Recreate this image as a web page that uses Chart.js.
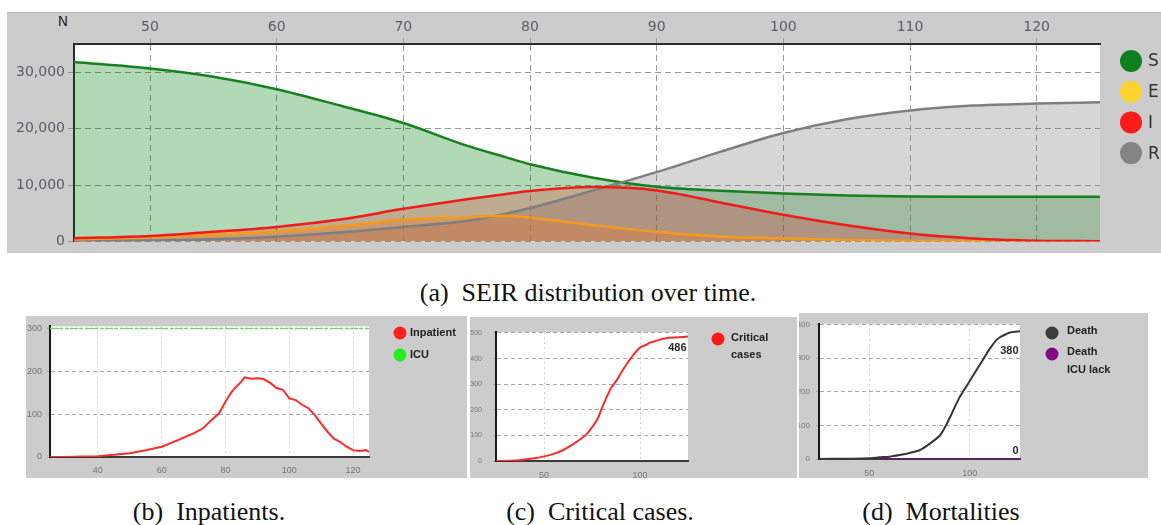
<!DOCTYPE html>
<html>
<head>
<meta charset="utf-8">
<title>SEIR simulation</title>
<script src="https://cdn.jsdelivr.net/npm/chart.js@4.4.1/dist/chart.umd.min.js"></script>
<style>
    body { margin: 0; background: #fff; width: 1161px; height: 525px; position: relative; overflow: hidden; }
    .panel { position: absolute; background: #cccccc; overflow: hidden; }
    .panel canvas { position: absolute; top: 0; }
    .caption {
        position: absolute; transform: translateX(-50%);
        font-family: "Liberation Serif", "Times New Roman", serif; font-size: 26px;
        line-height: 26px; color: #111; white-space: pre;
    }
</style>
</head>
<body>

<div class="panel" style="left:7px; top:12px; width:1154px; height:240px; border-top:1px solid #b5b5b5;">
    <canvas id="seirChart" width="1154" height="240" style="left:0"></canvas>
</div>
<div class="caption" style="left:588px; top:280px;">(a)  SEIR distribution over time.</div>

<div class="panel" style="left:26px; top:316px; width:441px; height:162px;">
    <canvas id="inpatientChart" width="441" height="162" style="left:0"></canvas>
</div>
<div class="panel" style="left:470px; top:317px; width:327px; height:161px;">
    <canvas id="criticalChart" width="327" height="161" style="left:0"></canvas>
</div>
<div class="panel" style="left:799px; top:313px; width:349px; height:165px;">
    <canvas id="deathChart" width="359" height="165" style="left:-10px"></canvas>
</div>
<div class="caption" style="left:209px; top:499px;">(b)  Inpatients.</div>
<div class="caption" style="left:600px; top:499px;">(c)  Critical cases.</div>
<div class="caption" style="left:941px; top:499px;">(d)  Mortalities</div>

<script>
// ===== data =====
// (a) SEIR compartments
const seirDays    = [44, 50, 55, 60, 65, 70, 75, 78, 80, 85, 90, 95, 100, 105, 110, 115, 120, 125];
const susceptible = [31800, 30650, 29200, 27000, 24100, 21000, 17000, 15000, 13700, 11300, 9700, 9000, 8500, 8150, 8000, 7950, 7950, 7950];
const exposed     = [350, 800, 1250, 1800, 2700, 3850, 4330, 4600, 4220, 2900, 1730, 870, 570, 300, 130, 80, 50, 30];
const infected    = [600, 1000, 1730, 2600, 3900, 5800, 7500, 8400, 8960, 9650, 9070, 6940, 4750, 2900, 1440, 570, 170, 80];
const recovered   = [50, 200, 400, 870, 1600, 2600, 3640, 4900, 5950, 9070, 12300, 15900, 19250, 21680, 23240, 24100, 24450, 24680];
const seirLabels  = ['S', 'E', 'I', 'R'];
const seirXTicks  = [50, 60, 70, 80, 90, 100, 110, 120];
const seirYTicks  = [0, 10000, 20000, 30000];

// (b) inpatients vs ICU capacity
const inpatientDays = [25, 30, 35, 40, 45, 50, 55, 60, 63, 65, 68, 70, 73, 75, 78, 80, 82, 83, 85, 86, 88, 90, 92, 94, 96, 98, 100, 102, 104, 106, 108, 110, 112, 114, 116, 118, 120, 122, 124, 125];
const inpatients    = [0, 0, 1, 2, 5, 9, 16, 24, 33, 39, 49, 55, 67, 82, 102, 129, 153, 161, 176, 186, 183, 184, 182, 173, 161, 157, 137, 133, 122, 114, 98, 78, 59, 43, 35, 24, 16, 14, 16, 12];
const icuDays       = [25, 125];
const icuCapacity   = [300, 300];
const inpatientLabels = ['Inpatient', 'ICU'];
const inpatientXTicks = [40, 60, 80, 100, 120];
const inpatientYTicks = [0, 100, 200, 300];

// (c) critical cases (cumulative)
const criticalDays  = [25, 35, 40, 45, 50, 55, 60, 65, 70, 72, 75, 78, 80, 82, 85, 88, 90, 93, 95, 98, 100, 103, 105, 108, 110, 115, 120, 125];
const criticalCases = [0, 2, 6, 11, 18, 28, 43, 65, 91, 103, 131, 166, 204, 239, 286, 317, 343, 378, 399, 428, 443, 453, 462, 468, 473, 481, 483, 486];
const criticalLabels = ['Critical\ncases'];
const criticalXTicks = [50, 100];
const criticalYTicks = [0, 100, 200, 300, 400, 500];

// (d) mortalities
const deathDays     = [25, 40, 50, 55, 60, 65, 70, 75, 80, 85, 88, 90, 93, 95, 98, 100, 103, 105, 108, 110, 113, 115, 118, 120, 125];
const deaths        = [0, 1, 2, 5, 7, 12, 18, 26, 45, 69, 98, 122, 160, 184, 213, 232, 261, 280, 309, 328, 352, 362, 371, 376, 380];
const icuLackDays   = [25, 125];
const deathsIcuLack = [0, 0];
const deathLabels   = ['Death', 'Death\nICU lack'];
const deathXTicks   = [50, 100];
const deathYTicks   = [0, 100, 200, 300, 400];

// ===== helpers & plugins =====
const toPoints = (xs, ys) => xs.map((x, i) => ({ x: x, y: ys[i] }));
const fixedTicks = values => scale => { scale.ticks = values.map(v => ({ value: v })); };

// white plotting area on the grey panel
const plotBackground = {
    id: 'plotBackground',
    beforeDraw(chart) {
        const { ctx, chartArea: a } = chart;
        ctx.save();
        ctx.fillStyle = '#ffffff';
        ctx.fillRect(a.left, a.top, a.right - a.left, a.bottom - a.top);
        ctx.restore();
    }
};

// round markers + labels drawn at a fixed spot on the right
const dotLegend = {
    id: 'dotLegend',
    afterDraw(chart, args, opts) {
        if (!opts.items) return;
        const ctx = chart.ctx;
        ctx.save();
        ctx.font = opts.font;
        ctx.textBaseline = 'middle';
        let y = opts.y;
        opts.items.forEach(item => {
            ctx.beginPath();
            ctx.arc(opts.x, y, opts.r, 0, Math.PI * 2);
            ctx.fillStyle = item.color;
            ctx.fill();
            ctx.fillStyle = opts.color;
            item.text.split('\n').forEach((line, k) => {
                ctx.fillText(line, opts.x + opts.gap, y + opts.textShift + k * opts.lineGap);
            });
            y += opts.step;
        });
        ctx.restore();
    }
};

// last value of a series written next to the line end
const endLabels = {
    id: 'endLabels',
    afterDatasetsDraw(chart) {
        const ctx = chart.ctx;
        chart.data.datasets.forEach((ds, i) => {
            if (!ds.endLabel) return;
            const meta = chart.getDatasetMeta(i);
            const last = meta.data[meta.data.length - 1];
            const value = ds.data[ds.data.length - 1].y;
            ctx.save();
            ctx.font = 'bold 11px "Liberation Sans", Arial, sans-serif';
            ctx.fillStyle = '#2a2a2a';
            ctx.textAlign = 'right';
            ctx.textBaseline = 'middle';
            ctx.fillText(String(value), chart.chartArea.right - 1.5, last.y + ds.endLabelOffset);
            ctx.restore();
        });
    }
};

const cornerText = {
    id: 'cornerText',
    afterDraw(chart, args, opts) {
        if (!opts.text) return;
        const ctx = chart.ctx;
        ctx.save();
        ctx.font = opts.font;
        ctx.fillStyle = opts.color;
        ctx.textAlign = 'center';
        ctx.textBaseline = 'middle';
        ctx.fillText(opts.text, opts.x, opts.y);
        ctx.restore();
    }
};

Chart.register(plotBackground, dotLegend, endLabels, cornerText);
Chart.defaults.font.family = '"DejaVu Sans", sans-serif';
Chart.defaults.animation = false;
Chart.defaults.responsive = false;
Chart.defaults.devicePixelRatio = 1;

let charts = {};

// ===== (a) SEIR =====
function buildSeirChart() {
    const lineColors = ['#17801f', '#f59a1a', '#ee1c1c', '#7f7f7f'];
    const fillColors = ['rgba(0,128,10,0.30)', 'rgba(240,140,30,0.30)', 'rgba(225,40,40,0.26)', 'rgba(120,120,120,0.30)'];
    const legendColors = ['#0f7f1f', '#fdd22c', '#fb1c1c', '#848484'];
    // S at the back, then R, E, I on top
    const drawOrder = [4, 2, 1, 3];
    const series = [susceptible, exposed, infected, recovered];

    charts.seir = new Chart(document.getElementById('seirChart'), {
        type: 'line',
        data: {
            datasets: series.map((values, i) => ({
                label: seirLabels[i],
                data: toPoints(seirDays, values),
                borderColor: lineColors[i],
                backgroundColor: fillColors[i],
                borderWidth: 2.5,
                fill: 'origin',
                order: drawOrder[i],
                pointRadius: 0,
                cubicInterpolationMode: 'monotone'
            }))
        },
        options: {
            layout: { padding: { left: 0, right: 61, top: 0, bottom: 7 } },
            plugins: {
                legend: { display: false },
                tooltip: { enabled: false },
                filler: { drawTime: 'beforeDatasetsDraw' },
                dotLegend: {
                    items: seirLabels.map((t, i) => ({ text: t, color: legendColors[i] })),
                    x: 1124, y: 48, r: 11, gap: 17, step: 30.7, lineGap: 0, textShift: 1,
                    font: '17px "DejaVu Sans", sans-serif', color: '#333'
                },
                cornerText: { text: 'N', x: 56, y: 9, font: '14px "DejaVu Sans", sans-serif', color: '#1e2433' }
            },
            scales: {
                x: {
                    type: 'linear', position: 'top', min: 44, max: 125,
                    afterFit: s => { s.height = 31; },
                    afterBuildTicks: fixedTicks(seirXTicks),
                    ticks: { padding: 2, color: '#5b5e68', font: { size: 14 } },
                    grid: { color: '#9a9a9a', lineWidth: 1, tickLength: 6 },
                    border: { display: true, color: '#2b2b2b', width: 2, dash: [6, 4] }
                },
                y: {
                    min: 0, max: 35000,
                    afterFit: s => { s.width = 67; },
                    afterBuildTicks: fixedTicks(seirYTicks),
                    ticks: {
                        padding: 3, color: '#5b5e68', font: { size: 14 },
                        callback: v => v.toLocaleString('en-US')
                    },
                    grid: { color: '#999', lineWidth: 1, tickLength: 6 },
                    border: { display: true, color: '#2b2b2b', width: 2, dash: [6, 4] }
                }
            }
        }
    });
}

// ===== small panels =====
function smallScales(o) {
    return {
        x: {
            type: 'linear', min: 25, max: 125,
            afterFit: s => { s.height = o.xHeight; },
            afterBuildTicks: fixedTicks(o.xTicks),
            ticks: { padding: o.xPad, color: '#777', font: { size: 9, family: '"Liberation Sans", sans-serif' } },
            grid: { color: '#d0d0d0', lineWidth: 1, tickLength: 3 },
            border: { display: true, color: '#3a3a3a', width: 2, dash: [2, 3] }
        },
        y: {
            min: 0, max: o.yMax,
            afterFit: s => { s.width = o.yWidth; },
            afterBuildTicks: fixedTicks(o.yTicks),
            ticks: { padding: o.yPad, color: '#777', font: { size: o.yFont, family: '"Liberation Sans", sans-serif' } },
            grid: { color: '#a8a8a8', lineWidth: 1, tickLength: 3 },
            border: { display: true, color: '#1a1a1a', width: 2, dash: [4, 3] }
        }
    };
}

const smallLegendFont = 'bold 11px "Liberation Sans", Arial, sans-serif';

function buildInpatientChart() {
    charts.inpatient = new Chart(document.getElementById('inpatientChart'), {
        type: 'line',
        data: {
            datasets: [{
                label: inpatientLabels[0],
                data: toPoints(inpatientDays, inpatients),
                borderColor: '#ff2a2a', borderWidth: 2, pointRadius: 0, tension: 0
            }, {
                label: inpatientLabels[1],
                data: toPoints(icuDays, icuCapacity),
                borderColor: '#5fe05f', borderWidth: 1.5, borderDash: [3, 2], pointRadius: 0
            }]
        },
        options: {
            layout: { padding: { left: 0, right: 98, top: 9, bottom: 0 } },
            plugins: {
                legend: { display: false },
                tooltip: { enabled: false },
                dotLegend: {
                    items: [{ text: inpatientLabels[0], color: '#ff2020' }, { text: inpatientLabels[1], color: '#22ee22' }],
                    x: 374, y: 17, r: 6.5, gap: 10, step: 22, lineGap: 0, textShift: 0,
                    font: smallLegendFont, color: '#222'
                }
            },
            scales: smallScales({ xHeight: 21, xTicks: inpatientXTicks, xPad: 5, yMax: 305, yTicks: inpatientYTicks, yWidth: 24, yPad: 5, yFont: 9 })
        }
    });
}

function buildCriticalChart() {
    charts.critical = new Chart(document.getElementById('criticalChart'), {
        type: 'line',
        data: {
            datasets: [{
                label: criticalLabels[0],
                data: toPoints(criticalDays, criticalCases),
                borderColor: '#ff2a2a', borderWidth: 2, pointRadius: 0, tension: 0.2,
                endLabel: true, endLabelOffset: 11
            }]
        },
        options: {
            layout: { padding: { left: 0, right: 109, top: 12, bottom: 0 } },
            plugins: {
                legend: { display: false },
                tooltip: { enabled: false },
                dotLegend: {
                    items: [{ text: criticalLabels[0], color: '#ff1a1a' }],
                    x: 248, y: 22, r: 6.5, gap: 13, step: 22, lineGap: 17, textShift: -1,
                    font: smallLegendFont, color: '#222'
                }
            },
            scales: smallScales({ xHeight: 17, xTicks: criticalXTicks, xPad: 6, yMax: 503, yTicks: criticalYTicks, yWidth: 26, yPad: 11, yFont: 7 })
        }
    });
}

function buildDeathChart() {
    charts.death = new Chart(document.getElementById('deathChart'), {
        type: 'line',
        data: {
            datasets: [{
                label: deathLabels[0],
                data: toPoints(deathDays, deaths),
                borderColor: '#353535', borderWidth: 2, pointRadius: 0, tension: 0.2,
                endLabel: true, endLabelOffset: 20
            }, {
                label: deathLabels[1],
                data: toPoints(icuLackDays, deathsIcuLack),
                borderColor: '#7d0f7d', borderWidth: 2, pointRadius: 0,
                endLabel: true, endLabelOffset: -8.5
            }]
        },
        options: {
            layout: { padding: { left: 0, right: 128, top: 7, bottom: 0 } },
            plugins: {
                legend: { display: false },
                tooltip: { enabled: false },
                dotLegend: {
                    items: [{ text: deathLabels[0], color: '#3c3c3c' }, { text: deathLabels[1], color: '#800a80' }],
                    x: 263, y: 20, r: 6.5, gap: 15, step: 21, lineGap: 18, textShift: -2,
                    font: smallLegendFont, color: '#222'
                }
            },
            scales: smallScales({ xHeight: 19, xTicks: deathXTicks, xPad: 6, yMax: 402, yTicks: deathYTicks, yWidth: 30, yPad: 6, yFont: 8 })
        }
    });
}

buildSeirChart();
buildInpatientChart();
buildCriticalChart();
buildDeathChart();
</script>
</body>
</html>
